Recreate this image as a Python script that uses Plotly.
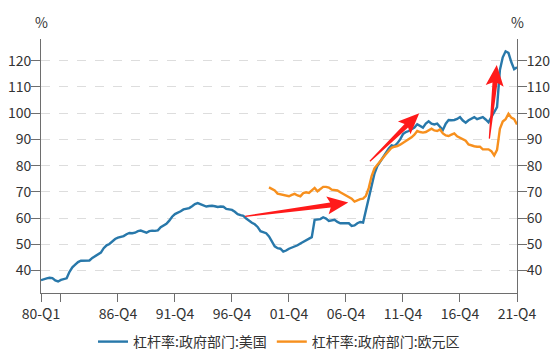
import plotly.graph_objects as go

# ---------------- data ----------------
QUARTERS = [f"{y % 100:02d}-Q{q}" for y in range(1980, 2022) for q in range(1, 5)]

US_GOV = [
    36.3, 36.8, 37.0, 37.2, 37.1, 36.2, 35.8, 36.4, 36.8, 37.0,
    39.5, 41.2, 42.2, 43.2, 43.7, 43.7, 43.7, 43.8, 44.8, 45.5,
    46.0, 46.8, 48.5, 49.6, 50.1, 51.0, 52.0, 52.5, 52.7, 53.1,
    53.8, 54.3, 54.2, 54.4, 55.0, 55.2, 54.8, 54.4, 55.0, 55.2,
    55.1, 55.3, 56.5, 57.2, 57.8, 59.0, 60.5, 61.5, 61.9, 62.6,
    63.3, 63.6, 63.8, 64.5, 65.3, 65.7, 65.2, 64.6, 64.4, 64.6,
    64.7, 64.5, 64.2, 64.4, 64.3, 63.5, 63.2, 63.1, 62.4, 61.5,
    61.1, 60.8, 59.8, 58.9, 58.2, 57.6, 56.6, 55.0, 54.5, 54.2,
    53.0, 50.8, 49.2, 48.5, 48.3, 47.2, 47.6, 48.3, 48.7, 49.1,
    49.6, 50.3, 50.9, 51.6, 52.0, 52.7, 59.3, 59.4, 59.6, 60.3,
    59.8, 58.9, 59.2, 59.3, 58.5, 58.0, 58.0, 57.9, 58.0, 57.0,
    57.2, 58.0, 58.5, 58.3, 63.0, 68.3, 73.0, 77.0, 79.8, 81.5,
    83.0, 85.0, 86.5, 87.7, 87.4, 88.5, 90.0, 92.0, 92.8, 93.2,
    93.8, 94.5, 95.8, 95.0, 94.5, 96.0, 96.9, 96.0, 95.7, 96.0,
    94.9, 93.6, 96.0, 97.4, 97.3, 97.4, 97.8, 98.5, 97.2, 96.4,
    97.3, 98.0, 98.5, 97.7, 98.0, 98.5, 97.6, 96.5, 98.5, 100.2,
    102.3, 116.5, 121.3, 123.6, 123.0, 119.5, 116.8, 117.5,
]

EURO_START = 80  # 00-Q1
EURO_GOV = [
    71.7, 71.0, 70.5, 69.3, 69.0, 68.9, 68.6, 68.3, 68.8, 69.2,
    68.6, 68.3, 69.5, 69.8, 69.6, 70.6, 71.5, 70.2, 71.0, 71.9,
    71.9, 71.6, 70.8, 70.6, 70.5, 69.8, 69.2, 68.8, 68.3, 67.4,
    66.3, 66.8, 67.2, 67.4, 68.5, 71.5, 76.0, 79.0, 80.4, 82.0,
    83.0, 84.3, 85.5, 86.8, 87.2, 87.4, 88.0, 88.7, 89.3, 90.0,
    90.8, 91.8, 93.2, 92.8, 92.6, 92.8, 93.4, 94.1, 93.4, 93.2,
    93.8, 92.3, 91.5, 91.3, 91.8, 92.3, 91.2, 90.6, 90.3, 89.5,
    88.1, 87.6, 87.4, 87.2, 87.2, 86.2, 86.3, 86.2, 85.5, 83.9,
    86.0, 94.0, 96.8, 97.7, 99.8, 98.3, 97.7, 95.7,
]

SERIES_NAMES = ["杠杆率:政府部门:美国", "杠杆率:政府部门:欧元区"]
TICK_IDX = [0, 7, 27, 47, 67, 87, 107, 127, 147, 167]
TICK_TEXT = ["80-Q1", "", "86-Q4", "91-Q4", "96-Q4", "01-Q4", "06-Q4", "11-Q4", "16-Q4", "21-Q4"]
Y_TICKS = [40, 50, 60, 70, 80, 90, 100, 110, 120]

# red arrow annotations: (tail index, tail value) -> (tip index, tip value)
ARROWS = [
    ((71.6, 60.65), (107.8, 65.9)),
    ((115.4, 81.65), (132.7, 100.0)),
    ((157.3, 90.3), (159.9, 118.4)),
]

# ---------------- layout geometry ----------------
W, H = 551, 352
ML, MR, MT, MB = 41, 34, 39, 59
PW, PH = W - ML - MR, H - MT - MB
XMIN, XMAX = 0, len(QUARTERS) - 1
YMIN, YMAX = 31.4, 128.3

BLUE = "#2878AA"
ORANGE = "#F7901E"
RED = "#FF1A1A"
AXIS = "#6E6E6E"
TXT = "#333333"
FONT = "Noto Sans CJK SC"


def to_px(i, v):
    return (ML + (i - XMIN) / (XMAX - XMIN) * PW,
            MT + (YMAX - v) / (YMAX - YMIN) * PH)


def to_data(x, y):
    return (XMIN + (x - ML) / PW * (XMAX - XMIN),
            YMAX - (y - MT) / PH * (YMAX - YMIN))


def arrow_path(tail, tip, tail_w=1.2, neck_w=5.0, head_w=18.0, head_len=18.0, sweep=3.0):
    tx, ty = to_px(*tail)
    hx, hy = to_px(*tip)
    dx, dy = hx - tx, hy - ty
    L = (dx * dx + dy * dy) ** 0.5
    ux, uy = dx / L, dy / L
    nx, ny = -uy, ux
    bx, by = hx - ux * head_len, hy - uy * head_len
    pts = [
        (tx + nx * tail_w / 2, ty + ny * tail_w / 2),
        (bx + nx * neck_w / 2, by + ny * neck_w / 2),
        (bx - ux * sweep + nx * head_w / 2, by - uy * sweep + ny * head_w / 2),
        (hx, hy),
        (bx - ux * sweep - nx * head_w / 2, by - uy * sweep - ny * head_w / 2),
        (bx - nx * neck_w / 2, by - ny * neck_w / 2),
        (tx - nx * tail_w / 2, ty - ny * tail_w / 2),
    ]
    d = [to_data(x, y) for x, y in pts]
    return "M " + " L ".join(f"{a:.4f},{b:.4f}" for a, b in d) + " Z"


fig = go.Figure()
fig.add_trace(go.Scatter(
    x=list(range(len(US_GOV))), y=US_GOV, mode="lines", name=SERIES_NAMES[0],
    line=dict(color=BLUE, width=2.4), yaxis="y"))
fig.add_trace(go.Scatter(
    x=list(range(EURO_START, EURO_START + len(EURO_GOV))), y=EURO_GOV, mode="lines",
    name=SERIES_NAMES[1], line=dict(color=ORANGE, width=2.4), yaxis="y2"))

shapes = []
for tail, tip in ARROWS:
    shapes.append(dict(type="path", xref="x", yref="y", path=arrow_path(tail, tip),
                       fillcolor=RED, line=dict(width=0), layer="above"))

axis_common = dict(
    range=[YMIN, YMAX], tickvals=Y_TICKS, showline=True, linecolor=AXIS, linewidth=1,
    ticks="outside", ticklen=9, tickcolor=AXIS, tickfont=dict(size=14, color=TXT, family=FONT),
    zeroline=False, fixedrange=True, automargin=False, ticklabelstandoff=-3,
)

fig.update_layout(
    width=W, height=H,
    margin=dict(l=ML, r=MR, t=MT, b=MB, pad=0, autoexpand=False),
    paper_bgcolor="white", plot_bgcolor="white",
    font=dict(family=FONT, color=TXT, size=14),
    xaxis=dict(
        range=[XMIN, XMAX], tickmode="array", tickvals=TICK_IDX, ticktext=TICK_TEXT,
        showline=True, linecolor=AXIS, linewidth=1, ticks="outside", ticklen=8,
        tickcolor=AXIS, showgrid=False, zeroline=False, automargin=False,
        tickfont=dict(size=14, color=TXT, family=FONT),
    ),
    yaxis=dict(**axis_common, side="left", showgrid=True, gridcolor="#DDDDDD", griddash="dash",
               gridwidth=1),
    yaxis2=dict(**axis_common, side="right", overlaying="y", showgrid=False),
    showlegend=True,
    legend=dict(orientation="h", x=0.5, xanchor="center", y=-49 / PH, yanchor="middle",
                font=dict(size=14, color=TXT, family=FONT), itemwidth=30,
                bgcolor="rgba(0,0,0,0)"),
    shapes=shapes,
    annotations=[
        dict(text="%", xref="paper", yref="paper", x=0, y=1 + 17 / PH, showarrow=False,
             xanchor="center", yanchor="middle", font=dict(size=14, color=TXT, family=FONT)),
        dict(text="%", xref="paper", yref="paper", x=1, y=1 + 17 / PH, showarrow=False,
             xanchor="center", yanchor="middle", font=dict(size=14, color=TXT, family=FONT)),
    ],
)

fig.write_html("out.html")
